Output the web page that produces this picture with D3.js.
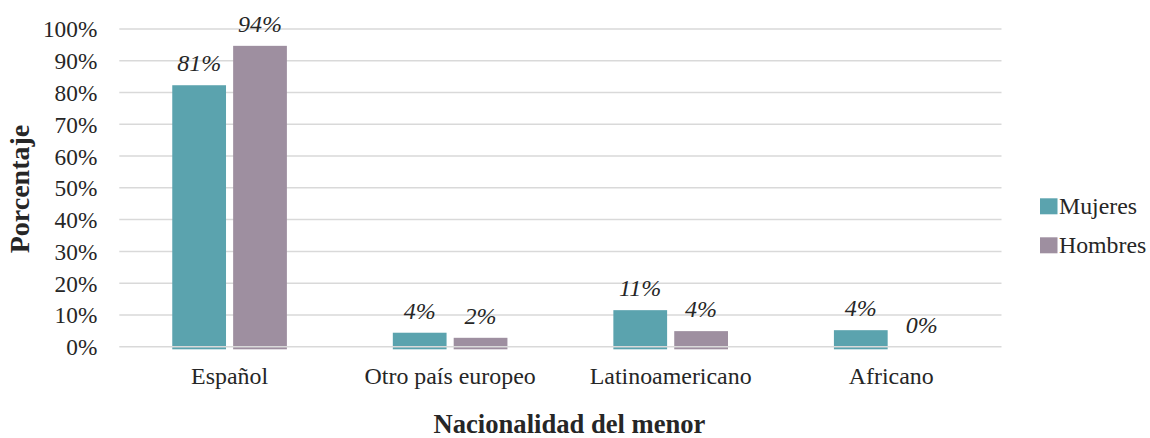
<!DOCTYPE html>
<html><head><meta charset="utf-8">
<script src="https://cdn.jsdelivr.net/npm/d3@7"></script>
<style>body{margin:0;background:#fff}svg{display:block}</style>
</head><body>
<svg id="c" width="1150" height="438"></svg>
<script>
const categories = ["Español", "Otro país europeo", "Latinoamericano", "Africano"];
const seriesNames = ["Mujeres", "Hombres"];
const mujeres = [82.3, 4.4, 11.5, 5.2];
const hombres = [94.7, 2.8, 4.9, 0];
const mujeresLabels = ["81%", "4%", "11%", "4%"];
const hombresLabels = ["94%", "2%", "4%", "0%"];
const yTicks = [0, 10, 20, 30, 40, 50, 60, 70, 80, 90, 100];
const colors = ["#5ba3ae", "#9e8fa0"];

const FONT = "Liberation Serif, Times New Roman, serif";
const TXT = "#262626";
const svg = d3.select("#c").attr("font-family", FONT);
const mLeft = 119.3, mRight = 1001.5, mTop = 29, mBottom = 346.7;
const x = d3.scaleBand().domain(categories).range([mLeft, mRight]);
const xs = d3.scaleBand().domain(seriesNames).range([0, x.bandwidth()]).paddingInner(0.117).paddingOuter(0.87);
const y = d3.scaleLinear().domain([0, 100]).range([mBottom, mTop]);

const rows = categories.map((c, i) => ({c, vals: [mujeres[i], hombres[i]], labs: [mujeresLabels[i], hombresLabels[i]]}));

svg.append("g").selectAll("line").data(yTicks.filter(d => d > 0)).join("line")
  .attr("x1", mLeft).attr("x2", mRight).attr("y1", d => y(d)).attr("y2", d => y(d))
  .attr("stroke", "#d9d9d9").attr("stroke-width", 1.5);

const g = svg.append("g").selectAll("g").data(rows).join("g").attr("transform", d => `translate(${x(d.c)},0)`);
g.selectAll("rect").data(d => d.vals.map((v, k) => ({v, k})).filter(e => e.v > 0)).join("rect")
  .attr("x", e => xs(seriesNames[e.k])).attr("width", xs.bandwidth())
  .attr("y", e => y(e.v)).attr("height", e => y(0) - y(e.v) + 2.6)
  .attr("fill", e => colors[e.k]);

svg.append("line").attr("x1", mLeft).attr("x2", mRight).attr("y1", y(0)).attr("y2", y(0))
  .attr("stroke", "#d9d9d9").attr("stroke-width", 1.5);

g.selectAll("text").data(d => d.labs.map((l, k) => ({l, k, v: d.vals[k]}))).join("text")
  .attr("x", e => xs(seriesNames[e.k]) + xs.bandwidth() / 2)
  .attr("y", e => y(e.v) - 14)
  .attr("text-anchor", "middle").attr("font-style", "italic").attr("font-size", 24)
  .attr("fill", TXT).attr("font-family", FONT)
  .text(e => e.l);

const yAxis = d3.axisLeft(y).tickValues(yTicks).tickFormat(d => d + "%").tickSize(0).tickPadding(22);
const ya = svg.append("g").attr("transform", `translate(${mLeft},0)`).call(yAxis);
ya.select(".domain").remove();
ya.attr("font-family", FONT).attr("font-size", 23.3);
ya.selectAll("text").attr("fill", TXT).attr("dy", "0.34em");

const xAxis = d3.axisBottom(x).tickSize(0).tickPadding(0);
const xa = svg.append("g").attr("transform", `translate(0,${mBottom})`).call(xAxis);
xa.select(".domain").remove();
xa.attr("font-family", FONT).attr("font-size", 23.9);
xa.selectAll("text").attr("fill", TXT).attr("dy", null).attr("y", 37);

svg.append("text").attr("x", 569.5).attr("y", 433).attr("text-anchor", "middle")
  .attr("font-family", FONT).attr("fill", TXT)
  .attr("font-weight", "bold").attr("font-size", 26.6).text("Nacionalidad del menor");
svg.append("text").attr("transform", "translate(28.5,189) rotate(-90)").attr("text-anchor", "middle")
  .attr("font-family", FONT).attr("fill", TXT)
  .attr("font-weight", "bold").attr("font-size", 28).text("Porcentaje");

const lg = svg.append("g").selectAll("g").data(seriesNames).join("g")
  .attr("transform", (d, i) => `translate(1040,${198.3 + i * 39})`);
lg.append("rect").attr("width", 17.5).attr("height", 16).attr("fill", (d, i) => colors[i]);
lg.append("text").attr("x", 19).attr("y", 15.3).attr("font-size", 23.8)
  .attr("font-family", FONT).attr("fill", TXT).text(d => d);
</script>
</body></html>
